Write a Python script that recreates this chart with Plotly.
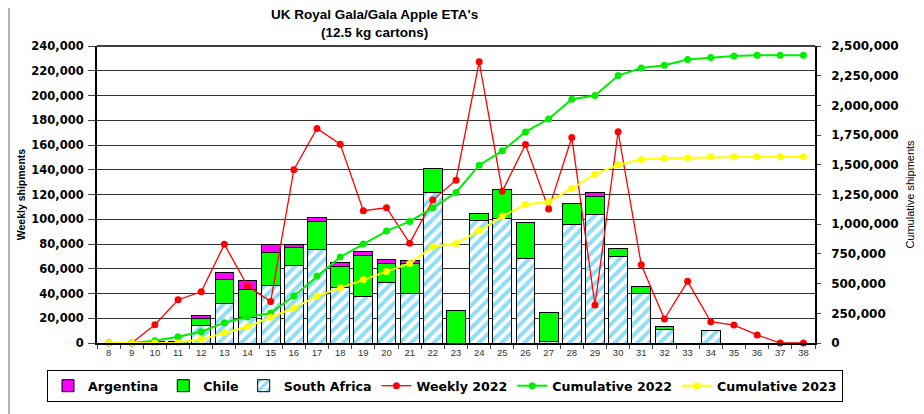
import plotly.graph_objects as go
from plotly.subplots import make_subplots

FONT = "Liberation Sans, Arial, sans-serif"
WIDE = "DejaVu Sans, Verdana, sans-serif"

weeks = [str(w) for w in range(8, 39)]

# stacked weekly shipments by origin (cartons)
south_africa = [0, 0, 0, 0, 14000, 32300, 21000, 46800, 62700, 75400, 45200, 37900,
                49200, 40400, 121900, 0, 99000, 100900, 68300, 1600, 96100, 103600,
                70000, 40400, 11000, 0, 10500, 0, 0, 0, 0]
chile = [0, 0, 1000, 1500, 6000, 19400, 22600, 26700, 14800, 22800, 16700, 32900,
         14800, 24200, 19100, 26600, 5900, 23100, 29400, 23400, 16400, 14800,
         6100, 5100, 2200, 0, 0, 0, 0, 0, 0]
argentina = [0, 0, 0, 0, 2000, 5400, 7300, 6500, 1900, 3600, 3500, 3500,
             3800, 1800, 0, 0, 0, 0, 0, 0, 0, 3500,
             0, 0, 0, 0, 0, 0, 0, 0, 0]

weekly_2022 = [0, 0, 14800, 35000, 41400, 79700, 46000, 33600, 140000, 173400, 160700, 106900,
               109300, 80700, 115500, 131600, 227200, 122700, 160400, 108200, 166100, 30700,
               170700, 63200, 19400, 49800, 17200, 14500, 6500, 0, 0]

cumulative_2022 = [0, 0, 19600, 53300, 95300, 171000, 218600, 252300, 395200, 563400, 723200,
                   832500, 941800, 1023100, 1138000, 1267000, 1496800, 1617300, 1777100,
                   1886400, 2051800, 2082600, 2250800, 2315300, 2337700, 2385400, 2402200,
                   2416200, 2421800, 2421800, 2421800]
cumulative_2023 = [0, 0, 1000, 2500, 30800, 86900, 137300, 215800, 294300, 395200, 465300,
                   535400, 602600, 669900, 810000, 838100, 944600, 1068000, 1166000, 1188500,
                   1300600, 1421100, 1499600, 1544500, 1555700, 1558500, 1566900, 1566900,
                   1566900, 1566900, 1566900]

# page body adds an 8px margin, so the figure is 8px smaller on each side
W, H = 916, 406
L, R, T, B = 89, 109, 38, 71
PW, PH = W - L - R, H - T - B

fig = make_subplots(specs=[[{"secondary_y": True}]])

bar_line = dict(color="black", width=1)

# --- bars (SA bottom, Chile, Argentina on top) ---
fig.add_trace(go.Bar(
    x=weeks, y=south_africa, name="South Africa", legendrank=3,
    marker=dict(color="white", line=bar_line,
                pattern=dict(shape="/", fgcolor="#1bbcf0", bgcolor="white",
                             size=8, solidity=0.5)),
), secondary_y=False)
fig.add_trace(go.Bar(
    x=weeks, y=chile, name="Chile", legendrank=2,
    marker=dict(color="#00ff00", line=bar_line),
), secondary_y=False)
fig.add_trace(go.Bar(
    x=weeks, y=argentina, name="Argentina", legendrank=1,
    marker=dict(color="#ff00ff", line=bar_line),
), secondary_y=False)

# --- lines ---
fig.add_trace(go.Scatter(
    x=weeks, y=weekly_2022, name="Weekly 2022", legendrank=4, mode="lines+markers",
    line=dict(color="#ff0000", width=1.3), marker=dict(color="#ff0000", size=7),
    cliponaxis=False,
), secondary_y=False)
fig.add_trace(go.Scatter(
    x=weeks, y=cumulative_2022, name="Cumulative 2022", legendrank=5, mode="lines+markers",
    line=dict(color="#00ee00", width=2), marker=dict(color="#00ee00", size=7),
    cliponaxis=False,
), secondary_y=True)
fig.add_trace(go.Scatter(
    x=weeks, y=cumulative_2023, name="Cumulative 2023", legendrank=6, mode="lines+markers",
    line=dict(color="#ffff00", width=2), marker=dict(color="#ffff00", size=7),
    cliponaxis=False,
), secondary_y=True)

fig.update_layout(
    width=W, height=H,
    margin=dict(l=L, r=R, t=T, b=B, autoexpand=False),
    paper_bgcolor="white", plot_bgcolor="white",
    barmode="stack", bargap=0.19,
    font=dict(family=FONT, color="black"),
    legend=dict(orientation="h", x=-50 / PW, xanchor="left", y=-27 / PH, yanchor="top",
                traceorder="normal",
                bordercolor="black", borderwidth=1, bgcolor="white",
                font=dict(size=12.6, weight="bold", family=WIDE),
                itemwidth=30),
)

# two-line title
fig.add_annotation(text="UK Royal Gala/Gala Apple ETA's<br>(12.5 kg cartons)",
                   xref="paper", yref="paper",
                   x=(374 - 97) / PW, y=(PH + T - 16) / PH, yanchor="middle",
                   showarrow=False, font=dict(size=13.5, weight="bold"))

fig.update_xaxes(
    type="category", range=[-0.5, len(weeks) - 0.5], domain=[0, 1],
    tickson="boundaries", ticks="outside", ticklen=4,
    tickfont=dict(size=9.5, color="#333"), showline=True, linecolor="black",
    linewidth=1.5, showgrid=False, automargin=False,
)
fig.update_yaxes(
    range=[0, 240000], dtick=20000, tickformat=",d", ticks="outside", ticklen=7,
    showline=True, linecolor="black", linewidth=2, gridcolor="#333", gridwidth=1,
    tickfont=dict(size=11.5, weight="bold", family=WIDE), automargin=False,
    ticklabelstandoff=2,
    title=dict(text="Weekly shipments", font=dict(size=10.5, weight="bold"), standoff=4),
    secondary_y=False,
)
fig.update_yaxes(
    range=[0, 2500000], dtick=250000, tickformat=",d", ticks="outside", ticklen=4,
    showline=True, linecolor="black", linewidth=1.5, showgrid=False,
    tickfont=dict(size=12, weight="bold", family=WIDE), automargin=False,
    ticklabelstandoff=8,
    title=dict(text="Cumulative shipments", font=dict(size=11), standoff=9),
    secondary_y=True,
)

# frame line on top of the plot area
fig.add_shape(type="line", xref="paper", yref="paper", x0=0, x1=1, y0=1, y1=1,
              line=dict(color="black", width=1.5))
# gray outer frame edge on the left of the page
fig.add_shape(type="line", xref="paper", yref="paper",
              x0=-(L - 1) / PW, x1=-(L - 1) / PW, y0=-B / PH, y1=1 + T / PH,
              line=dict(color="#999", width=1.5))

fig.write_html("out.html")
